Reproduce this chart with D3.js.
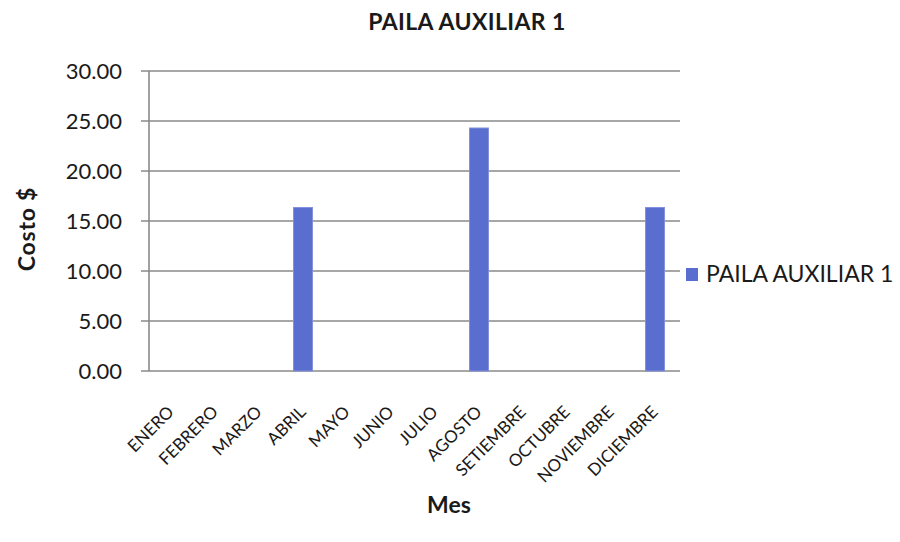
<!DOCTYPE html>
<html>
<head>
<meta charset="utf-8">
<script src="https://cdn.jsdelivr.net/npm/d3@7"></script>
<style>
  html, body { margin: 0; padding: 0; background: #fff; }
  svg { display: block; font-family: Lato, "Open Sans", "Liberation Sans", sans-serif; }
</style>
</head>
<body>
<svg id="chart" width="900" height="542"></svg>
<script>
const months = ["ENERO","FEBRERO","MARZO","ABRIL","MAYO","JUNIO","JULIO","AGOSTO","SETIEMBRE","OCTUBRE","NOVIEMBRE","DICIEMBRE"];
const costs = [0, 0, 0, 16.35, 0, 0, 0, 24.3, 0, 0, 0, 16.35];
const yTicks = [0, 5, 10, 15, 20, 25, 30];
const seriesName = "PAILA AUXILIAR 1";
const chartTitle = "PAILA AUXILIAR 1";
const yTitle = "Costo $";
const xTitle = "Mes";

(function () {
const svg = d3.select("#chart");
const pLeft = 149, pRight = 677, pTop = 71, pBottom = 371;

const x = d3.scaleBand().domain(months).range([pLeft, pRight]).paddingInner(0.57).paddingOuter(0.285);
const y = d3.scaleLinear().domain([0, 30]).range([pBottom, pTop]);

// gridlines
svg.append("g").selectAll("line").data(yTicks).join("line")
  .attr("x1", 141).attr("x2", pRight + 3)
  .attr("y1", d => y(d)).attr("y2", d => y(d))
  .attr("stroke", "#8a8a8a").attr("stroke-width", 1.6);

// y axis line
svg.append("line").attr("x1", pLeft).attr("x2", pLeft).attr("y1", pTop).attr("y2", pBottom)
  .attr("stroke", "#8a8a8a").attr("stroke-width", 1.6);

// bars
svg.append("g").selectAll("rect").data(months.map((m, i) => ({m, v: costs[i]})).filter(d => d.v > 0)).join("rect")
  .attr("x", d => x(d.m)).attr("width", x.bandwidth())
  .attr("y", d => y(d.v)).attr("height", d => y(0) - y(d.v))
  .attr("fill", "#5a6ed0").attr("stroke", "#8191da").attr("stroke-width", 1);

// y tick labels
svg.append("g").selectAll("text").data(yTicks).join("text")
  .attr("x", 122).attr("y", d => y(d)).attr("dy", "0.36em")
  .attr("text-anchor", "end").attr("font-size", 22).attr("fill", "#1a1a1a")
  .text(d => d3.format(".2f")(d));

// x tick labels
svg.append("g").selectAll("text").data(months).join("text")
  .attr("transform", d => `translate(${x(d) + x.bandwidth() / 2 + 4},${pBottom + 42}) rotate(-45)`)
  .attr("text-anchor", "end").attr("font-size", 17).attr("fill", "#1a1a1a")
  .text(d => d);

// title
svg.append("text").attr("x", 467).attr("y", 30).attr("text-anchor", "middle")
  .attr("font-size", 23).attr("font-weight", "bold").attr("letter-spacing", 0.4)
  .attr("fill", "#1a1a1a").text(chartTitle);

// axis titles
svg.append("text").attr("transform", "translate(35,229) rotate(-90)").attr("text-anchor", "middle")
  .attr("font-size", 23).attr("font-weight", "bold").attr("letter-spacing", 0.8)
  .attr("fill", "#1a1a1a").text(yTitle);
svg.append("text").attr("x", 449).attr("y", 513).attr("text-anchor", "middle")
  .attr("font-size", 23).attr("font-weight", "bold").attr("fill", "#1a1a1a").text(xTitle);

// legend
svg.append("rect").attr("x", 686).attr("y", 268).attr("width", 12).attr("height", 13).attr("fill", "#5a6ed0");
svg.append("text").attr("x", 706).attr("y", 274).attr("dy", "0.36em")
  .attr("font-size", 23).attr("fill", "#1a1a1a").text(seriesName);
})();
</script>
</body>
</html>
